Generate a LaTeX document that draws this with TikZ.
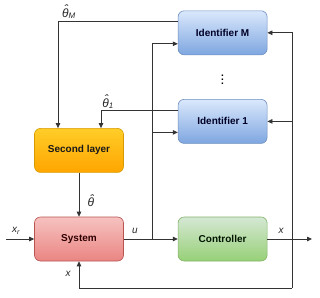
\documentclass[tikz,border=0pt]{standalone}
\usepackage{fontspec}
\setmainfont{Liberation Sans}
\usepackage{xcolor}
\usepackage{tikz}
\usetikzlibrary{arrows.meta, positioning, calc}

\definecolor{idtop}{HTML}{DAE8FC}
\definecolor{idbot}{HTML}{7EA6E0}
\definecolor{iddraw}{HTML}{6C8EBF}
\definecolor{sltop}{HTML}{FFCD28}
\definecolor{slbot}{HTML}{FFA500}
\definecolor{sldraw}{HTML}{D79B00}
\definecolor{sytop}{HTML}{F6C2C0}
\definecolor{sybot}{HTML}{EA8582}
\definecolor{sydraw}{HTML}{B85450}
\definecolor{cttop}{HTML}{D5E8D4}
\definecolor{ctbot}{HTML}{97D077}
\definecolor{ctdraw}{HTML}{82B366}

\newcommand{\thetahat}{\rlap{\hspace{0.17em}\raisebox{0.28em}{ˆ}}θ}

\begin{document}
\begin{tikzpicture}[x=1pt, y=1pt]

\tikzset{
  block/.style={rectangle, rounded corners=6pt, line width=0.6pt,
    text centered, minimum height=44pt, minimum width=89pt,
    font=\fontsize{10}{12}\selectfont\bfseries},
  idbox/.style={block, draw=iddraw, top color=idtop, bottom color=idbot,
    text=black!85!blue},
  layerbox/.style={block, draw=sldraw, top color=sltop, bottom color=slbot,
    text=black!90},
  sysbox/.style={block, draw=sydraw, top color=sytop, bottom color=sybot,
    text=black!70!red!60!black},
  ctrlbox/.style={block, draw=ctdraw, top color=cttop, bottom color=ctbot,
    text=black!80!green!40!black},
  arrow/.style={-{Triangle[length=5pt, width=4.5pt]}, line width=0.8pt,
    black!80},
  line/.style={line width=0.8pt, black!80},
  siglabel/.style={font=\fontsize{10}{12}\selectfont\itshape, black!85,
    inner sep=1pt},
  thlabel/.style={font=\fontsize{12}{14}\selectfont\itshape, black!85,
    inner sep=1pt}
}

\useasboundingbox (0,0) rectangle (320,-297);

\node[sysbox] at (79,-239) (system) {System};
\node[layerbox, above=44pt of system] (second) {Second layer};
\node[ctrlbox, right=54pt of system] (controller) {Controller};
\node[idbox, above=73pt of controller] (id1) {Identifier 1};
\node[idbox, above=44pt of id1] (idM) {Identifier M};
\node[font=\bfseries, inner sep=0pt] at ($(idM)!0.5!(id1)$) (dots) {$\vdots$};

% free ends
\coordinate (xin)  at (6,-239);
\coordinate (xout) at (312,-239);
\coordinate (ubr)  at (152,-239);
\coordinate (xbr)  at (292,-239);
\coordinate (xlow) at (292,-288);

% inputs / outputs of the loop
\draw[arrow] (xin) -- (system.west);
\draw[arrow] (system.east) -- (controller.west);
\draw[arrow] (controller.east) -- (xout);
\draw[arrow] (second.south) -- (system.north);

% u to the identifiers
\draw[line] (ubr) -- (ubr |- {$(idM.west)+(0,-11)$});
\draw[arrow] (ubr |- {$(idM.west)+(0,-11)$}) -- ($(idM.west)+(0,-11)$);
\draw[arrow] (ubr |- {$(id1.west)+(0,-11)$}) -- ($(id1.west)+(0,-11)$);

% estimates to the second layer
\draw[arrow] ($(idM.west)+(0,11)$) -| ($(second.north)+(-21,0)$);
\draw[arrow] ($(id1.west)+(0,11)$) -| ($(second.north)+(22,0)$);

% state feedback
\draw[line] (xbr) -- (xlow);
\draw[arrow] (xlow) -| (system.south);
\draw[arrow] (xlow) -- (xlow |- idM.east) -- (idM.east);
\draw[arrow] (xlow |- id1.east) -- (id1.east);

% labels
\node[siglabel] at (16,-231) {x\textsubscript{r}};
\node[siglabel] at (135,-231) {u};
\node[siglabel] at (281,-231) {x};
\node[siglabel] at (68,-274) {x};
\node[thlabel] at (91,-201) {\thetahat};
\node[thlabel] at (69,-12) {\thetahat\textsubscript{M}};
\node[thlabel] at (108,-102) {\thetahat\textsubscript{1}};

\end{tikzpicture}
\end{document}
